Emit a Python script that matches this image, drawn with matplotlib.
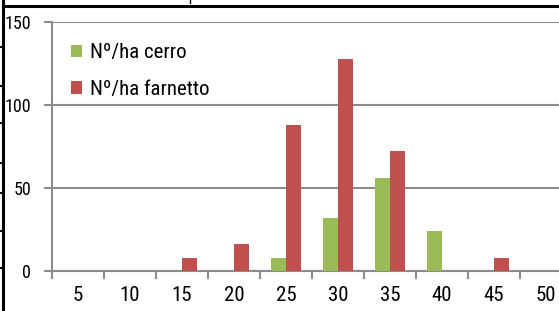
import matplotlib
matplotlib.use("Agg")
import matplotlib.pyplot as plt
from matplotlib.lines import Line2D
import numpy as np

categories = ["5", "10", "15", "20", "25", "30", "35", "40", "45", "50"]
cerro = [0, 0, 0, 0, 8, 32, 56, 24, 0, 0]
farnetto = [0, 0, 8, 16, 88, 128, 72, 0, 8, 0]
labels = ["Nº/ha cerro", "Nº/ha farnetto"]
yticks = [0, 50, 100, 150]

plt.rcParams['font.family'] = ["Roboto Condensed", "DejaVu Sans"]
plt.rcParams['font.stretch'] = 'condensed'

W, H = 559, 311
fig = plt.figure(figsize=(W / 100, H / 100), dpi=100)
ax = fig.add_axes([52 / W, 40 / H, 520 / W, 249 / H])

x = np.arange(len(categories))
bw = 0.28
ax.bar(x - bw / 2, cerro, bw, color="#9BBB59", label=labels[0], zorder=3)
ax.bar(x + bw / 2, farnetto, bw, color="#C0504D", label=labels[1], zorder=3)

ax.set_xlim(-0.5, len(categories) - 0.5)
ax.set_ylim(0, 150)
ax.set_yticks(yticks)
ax.set_yticklabels([str(v) for v in yticks], fontsize=13)
ax.set_xticks(x)
ax.set_xticklabels(categories, fontsize=15)
ax.set_xticks(np.arange(-0.5, len(categories)), minor=True)
ax.tick_params(axis='x', which='major', length=0, pad=11)
ax.tick_params(axis='x', which='minor', length=6, width=1.5, color="#8c8c8c", direction='out')
ax.tick_params(axis='y', length=6, width=1.5, color="#8c8c8c", direction='out', pad=9)

ax.yaxis.grid(True, color="#8c8c8c", linewidth=1.5, zorder=0)
for s in ["top", "right"]:
    ax.spines[s].set_visible(False)
for s in ["left", "bottom"]:
    ax.spines[s].set_color("#8c8c8c")
    ax.spines[s].set_linewidth(1.5)

leg = ax.legend(loc="upper left", bbox_to_anchor=(0.0, 0.99), frameon=False,
                fontsize=15, handlelength=0.55, handleheight=0.55,
                labelspacing=0.85, handletextpad=0.35)

fig.add_artist(Line2D([3 / W, 3 / W], [0, 1], color="black", lw=2.2, transform=fig.transFigure))
fig.add_artist(Line2D([3 / W, 1], [1 - 6 / H, 1 - 6 / H], color="black", lw=2.2, transform=fig.transFigure))
for yy in [47, 86, 123, 163, 193, 231, 268]:
    fig.add_artist(Line2D([0, 3 / W], [1 - yy / H, 1 - yy / H], color="black", lw=1.5, transform=fig.transFigure))
fig.add_artist(Line2D([190 / W, 190 / W], [1 - 3 / H, 1], color="black", lw=1, transform=fig.transFigure))

fig.savefig("out.png", dpi=100)
